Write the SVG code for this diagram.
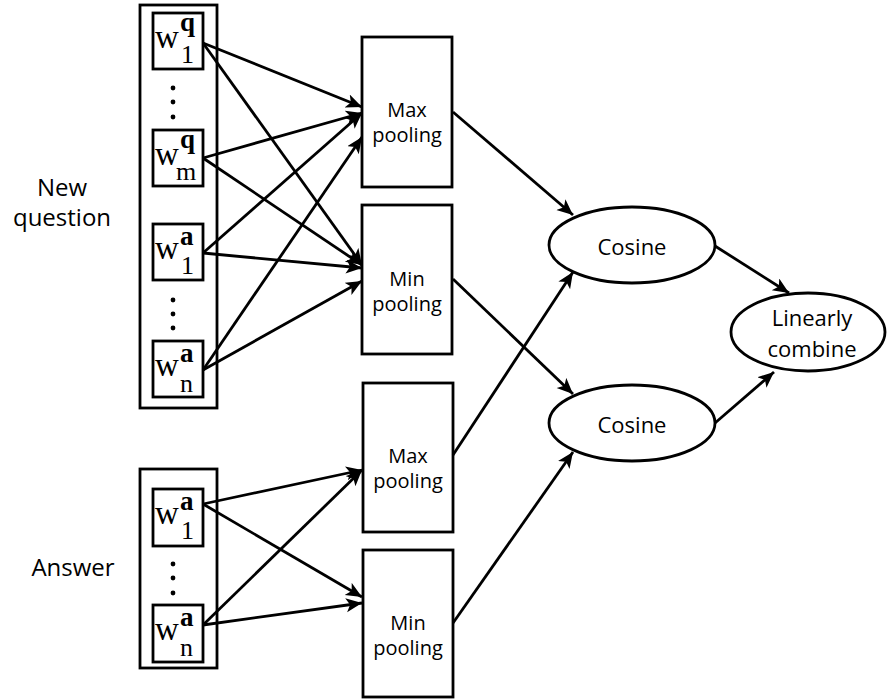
<svg xmlns="http://www.w3.org/2000/svg" width="887" height="699" viewBox="0 0 887 699">
<defs>
<marker id="ah" markerUnits="userSpaceOnUse" markerWidth="18" markerHeight="16" refX="16" refY="7" orient="auto">
<path d="M0,0 L16,7 L0,14 L4,7 z" fill="#000"/>
</marker>
<style>
.box{fill:#fff;stroke:#000;stroke-width:2.8}
.sans{font-family:"Open Sans","Liberation Sans",sans-serif;fill:#000}
.lbl{font-size:24px}
.pool{font-size:20px;text-anchor:middle}
.ell{font-size:22px;text-anchor:middle}
.ser{font-family:"Liberation Serif","Times New Roman",serif;fill:#000}
.w{font-size:33px}
.sup{font-size:27px;font-weight:bold}
.sub{font-size:26px}
.conn line{stroke:#000;stroke-width:2.8;marker-end:url(#ah)}
</style>
</defs>
<rect width="887" height="699" fill="#fff"/>

<g id="label-question">
<text class="sans lbl" x="62" y="196" text-anchor="middle">New</text>
<text class="sans lbl" x="62" y="226" text-anchor="middle">question</text>
</g>
<g id="label-answer">
<text class="sans lbl" x="73" y="576" text-anchor="middle">Answer</text>
</g>

<g id="question-group">
<rect class="box" x="140" y="5" width="77" height="403"/>
<g id="q-w1q">
<rect class="box" x="153" y="13" width="50" height="56"/>
<text class="ser w" x="155" y="48">w</text>
<text class="ser sup" x="180" y="31">q</text>
<text class="ser sub" x="181" y="63">1</text>
</g>
<circle cx="173" cy="88" r="2.4"/><circle cx="173" cy="102" r="2.4"/><circle cx="173" cy="117" r="2.4"/>
<g id="q-wmq">
<rect class="box" x="153" y="130" width="50" height="56"/>
<text class="ser w" x="155" y="165">w</text>
<text class="ser sup" x="180" y="148">q</text>
<text class="ser sub" x="176" y="180">m</text>
</g>
<g id="q-w1a">
<rect class="box" x="153" y="224" width="50" height="56"/>
<text class="ser w" x="155" y="259">w</text>
<text class="ser sup" x="180" y="245">a</text>
<text class="ser sub" x="181" y="274">1</text>
</g>
<circle cx="173" cy="300" r="2.4"/><circle cx="173" cy="314" r="2.4"/><circle cx="173" cy="328" r="2.4"/>
<g id="q-wna">
<rect class="box" x="153" y="341" width="50" height="56"/>
<text class="ser w" x="155" y="376">w</text>
<text class="ser sup" x="180" y="362">a</text>
<text class="ser sub" x="180" y="392">n</text>
</g>
</g>

<g id="answer-group">
<rect class="box" x="140" y="469" width="77" height="199"/>
<g id="a-w1a">
<rect class="box" x="153" y="489" width="50" height="57"/>
<text class="ser w" x="155" y="524">w</text>
<text class="ser sup" x="180" y="510">a</text>
<text class="ser sub" x="181" y="539">1</text>
</g>
<circle cx="173" cy="564" r="2.4"/><circle cx="173" cy="578" r="2.4"/><circle cx="173" cy="593" r="2.4"/>
<g id="a-wna">
<rect class="box" x="153" y="605" width="50" height="57"/>
<text class="ser w" x="155" y="640">w</text>
<text class="ser sup" x="180" y="626">a</text>
<text class="ser sub" x="180" y="656">n</text>
</g>
</g>

<g id="maxpool-q">
<rect class="box" x="362" y="37" width="90" height="150"/>
<text class="sans pool" x="407" y="117">Max</text>
<text class="sans pool" x="407" y="142">pooling</text>
</g>
<g id="minpool-q">
<rect class="box" x="362" y="205" width="90" height="149"/>
<text class="sans pool" x="407" y="286">Min</text>
<text class="sans pool" x="407" y="311">pooling</text>
</g>
<g id="maxpool-a">
<rect class="box" x="363" y="383" width="90" height="149"/>
<text class="sans pool" x="408" y="463">Max</text>
<text class="sans pool" x="408" y="488">pooling</text>
</g>
<g id="minpool-a">
<rect class="box" x="363" y="550" width="90" height="147"/>
<text class="sans pool" x="408" y="630">Min</text>
<text class="sans pool" x="408" y="655">pooling</text>
</g>

<g id="cosine-1">
<ellipse class="box" cx="632" cy="245" rx="83" ry="38"/>
<text class="sans ell" x="632" y="255">Cosine</text>
</g>
<g id="cosine-2">
<ellipse class="box" cx="632" cy="423" rx="83" ry="38"/>
<text class="sans ell" x="632" y="433">Cosine</text>
</g>
<g id="linear">
<ellipse class="box" cx="808" cy="332" rx="77" ry="39"/>
<text class="sans ell" x="812" y="326">Linearly</text>
<text class="sans ell" x="812" y="357">combine</text>
</g>

<g id="connectors" class="conn">
<line x1="203" y1="43" x2="362" y2="107"/>
<line x1="203" y1="43" x2="362" y2="265"/>
<line x1="203" y1="158" x2="362" y2="113"/>
<line x1="203" y1="158" x2="362" y2="265"/>
<line x1="203" y1="253" x2="362" y2="113"/>
<line x1="203" y1="253" x2="362" y2="268"/>
<line x1="203" y1="370" x2="362" y2="137"/>
<line x1="203" y1="370" x2="362" y2="281"/>
<line x1="203" y1="504" x2="362" y2="470"/>
<line x1="203" y1="504" x2="362" y2="597"/>
<line x1="203" y1="625" x2="362" y2="470"/>
<line x1="203" y1="625" x2="362" y2="603"/>
<line x1="453" y1="112" x2="573" y2="215"/>
<line x1="453" y1="279" x2="573" y2="394"/>
<line x1="453" y1="455" x2="573" y2="272"/>
<line x1="453" y1="623" x2="573" y2="452"/>
<line x1="715" y1="246" x2="789" y2="293"/>
<line x1="715" y1="423" x2="774" y2="372"/>
</g>
</svg>
